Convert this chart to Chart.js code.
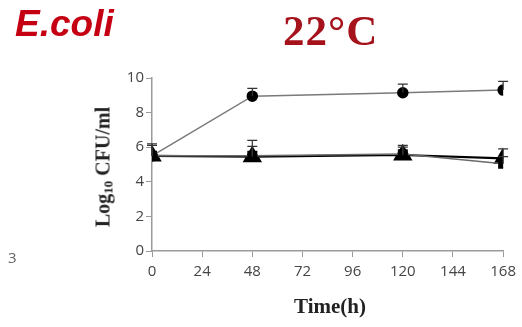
<!DOCTYPE html>
<html>
<head>
<meta charset="utf-8">
<script src="https://cdn.jsdelivr.net/npm/chart.js@4"></script>
<style>
  html, body { margin: 0; padding: 0; background: #fff; }
  #wrap { position: relative; width: 522px; height: 327px; overflow: hidden; }
  #chart { position: absolute; left: 0; top: 0; }
  .lbl { position: absolute; white-space: nowrap; }
  #species { left: 15px; top: 3px; font: italic bold 37px "Liberation Sans", Arial, sans-serif; color: #c40012; }
  #temp { left: 283px; top: 6px; font: bold 43px "Liberation Serif", "Times New Roman", serif; color: #a5121b; letter-spacing: 1px; }
  #ytitle { left: 104px; top: 167px; font: bold 20px "Liberation Serif", "Times New Roman", serif; color: #222;
            transform: translate(-50%, -50%) rotate(-90deg); }
  #ytitle sub { font-size: 13px; vertical-align: -3px; }
  #xtitle { left: 330px; top: 294px; transform: translateX(-50%); font: bold 21px "Liberation Serif", "Times New Roman", serif; color: #222; }
  #stray { left: 8px; top: 247px; font: 15px "Open Sans", sans-serif; color: #666; }
</style>
</head>
<body>
<div id="wrap">
  <canvas id="chart" width="522" height="327"></canvas>
  <div class="lbl" id="species">E.coli</div>
  <div class="lbl" id="temp">22°C</div>
  <div class="lbl" id="ytitle">Log<sub>10</sub> CFU/ml</div>
  <div class="lbl" id="xtitle">Time(h)</div>
  <div class="lbl" id="stray">3</div>
</div>
<script>
// sampling times (h)
const times = [0, 48, 120, 168];

// log10 CFU/ml per treatment, with upper error bar size
const controlCounts = [5.5, 8.95, 9.15, 9.3];
const controlErr = [0.6, 0.45, 0.5, 0.5];
const treatACounts = [5.5, 5.5, 5.6, 5.05];
const treatAErr = [0.7, 0.9, 0.5, 0.4];
const treatBCounts = [5.5, 5.45, 5.55, 5.35];
const treatBErr = [0.6, 0.6, 0.45, 0.55];

const xTicks = [0, 24, 48, 72, 96, 120, 144, 168];

const toPoints = (vals) => vals.map((v, i) => ({ x: times[i], y: v }));

// draws upper error bars with caps using the chart scales
const errorBars = {
  id: 'errorBars',
  afterDatasetsDraw(chart) {
    const { ctx, scales } = chart;
    chart.data.datasets.forEach((ds) => {
      if (!ds.errUp) return;
      ctx.save();
      ctx.strokeStyle = '#333';
      ctx.lineWidth = 1.2;
      ds.data.forEach((p, i) => {
        const x = scales.x.getPixelForValue(p.x);
        const y0 = scales.y.getPixelForValue(p.y);
        const y1 = scales.y.getPixelForValue(p.y + ds.errUp[i]);
        ctx.beginPath();
        ctx.moveTo(x, y0);
        ctx.lineTo(x, y1);
        ctx.moveTo(x - 5, y1);
        ctx.lineTo(x + 5, y1);
        ctx.stroke();
      });
      ctx.restore();
    });
  },
};

new Chart(document.getElementById('chart'), {
  type: 'line',
  data: {
    datasets: [
      {
        data: toPoints(controlCounts),
        errUp: controlErr,
        borderColor: '#7a7a7a',
        borderWidth: 1.5,
        pointStyle: 'circle',
        pointRadius: 5,
        pointBackgroundColor: '#000',
        pointBorderColor: '#000',
      },
      {
        data: toPoints(treatACounts),
        errUp: treatAErr,
        borderColor: '#6a6a6a',
        borderWidth: 1.5,
        pointStyle: 'rect',
        pointRadius: 6,
        pointBackgroundColor: '#000',
        pointBorderColor: '#000',
      },
      {
        data: toPoints(treatBCounts),
        errUp: treatBErr,
        borderColor: '#000',
        borderWidth: 2.2,
        pointStyle: 'triangle',
        pointRadius: 9,
        pointBackgroundColor: '#000',
        pointBorderColor: '#000',
      },
    ],
  },
  options: {
    responsive: false,
    animation: false,
    layout: { padding: { left: 112, right: 18, top: 78, bottom: 40 } },
    plugins: { legend: { display: false }, tooltip: { enabled: false } },
    scales: {
      x: {
        type: 'linear',
        min: 0,
        max: 168,
        afterBuildTicks: (s) => { s.ticks = xTicks.map((v) => ({ value: v })); },
        afterFit: (s) => { s.height = 36; },
        border: { color: '#9a9a9a', width: 1.5 },
        grid: { drawOnChartArea: false, drawTicks: true, tickLength: 6, color: '#9a9a9a' },
        ticks: { color: '#444', padding: 6, font: { family: 'Open Sans', size: 15 } },
      },
      y: {
        min: 0,
        max: 10,
        afterFit: (s) => { s.width = 40; },
        border: { color: '#9a9a9a', width: 1.5 },
        grid: { drawOnChartArea: false, drawTicks: true, tickLength: 6, color: '#9a9a9a' },
        ticks: { stepSize: 2, color: '#444', padding: 2, font: { family: 'Open Sans', size: 15 } },
      },
    },
  },
  plugins: [errorBars],
});
</script>
</body>
</html>
